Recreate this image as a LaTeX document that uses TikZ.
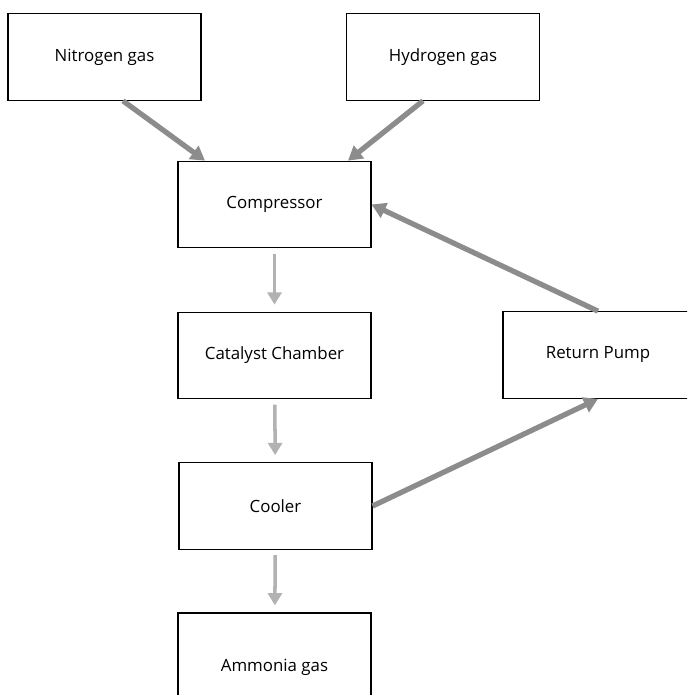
\documentclass[tikz,border=0pt]{standalone}
\usepackage{fontspec}
\setmainfont{Open Sans}
\usetikzlibrary{arrows.meta,calc}

\tikzset{
	unit/.style={draw, line width=0.7pt, minimum width=3.86cm, minimum height=1.73cm, inner sep=0pt, font=\fontsize{9.6}{11}\selectfont},
	feed/.style={line width=3pt, color=black!45, -{Triangle[length=8pt,width=9pt]}},
	flow/.style={line width=2pt, color=black!30, -{Triangle[length=7pt,width=8pt]}, shorten <=3pt, shorten >=4pt},
}

\begin{document}
\begin{tikzpicture}[x=0.02cm, y=-0.02cm]
			%%%%% START %%%%%
			
			\useasboundingbox (0, 0) rectangle (687, 695);
			\clip (0, 0) rectangle (687, 695);
			
			\node[unit] (nitrogen) at (104.5, 57) {Nitrogen gas};
			\node[unit] (hydrogen) at (443, 57) {Hydrogen gas};
			
			\node[unit] (compressor) at (274.5, 204.5) {Compressor};
			\node[unit] (catalyst) at (274.5, 355.5) {Catalyst Chamber};
			\node[unit, minimum width=3.8cm] (pump) at (598, 355) {Return Pump};
			\node[unit] (cooler) at (275.5, 506) {Cooler};
			\node[unit, minimum height=2.16cm] (ammonia) at (274.5, 667) {Ammonia gas};
			
			\draw[feed] ($(nitrogen.south)+(18.5, 0)$) -- ($(compressor.north)+(-69.5, 0)$);
			\draw[feed] ($(hydrogen.south)+(-20, 0)$) -- ($(compressor.north)+(73.5, 0)$);
			\draw[feed] (pump.north) -- (compressor.east);
			\draw[feed] (cooler.east) -- (pump.south);
			
			\draw[flow] (compressor) -- (catalyst);
			\draw[flow] (catalyst) -- (cooler);
			\draw[flow] (cooler) -- (ammonia);
			
			%%%%% END %%%%%
\end{tikzpicture}
\end{document}
